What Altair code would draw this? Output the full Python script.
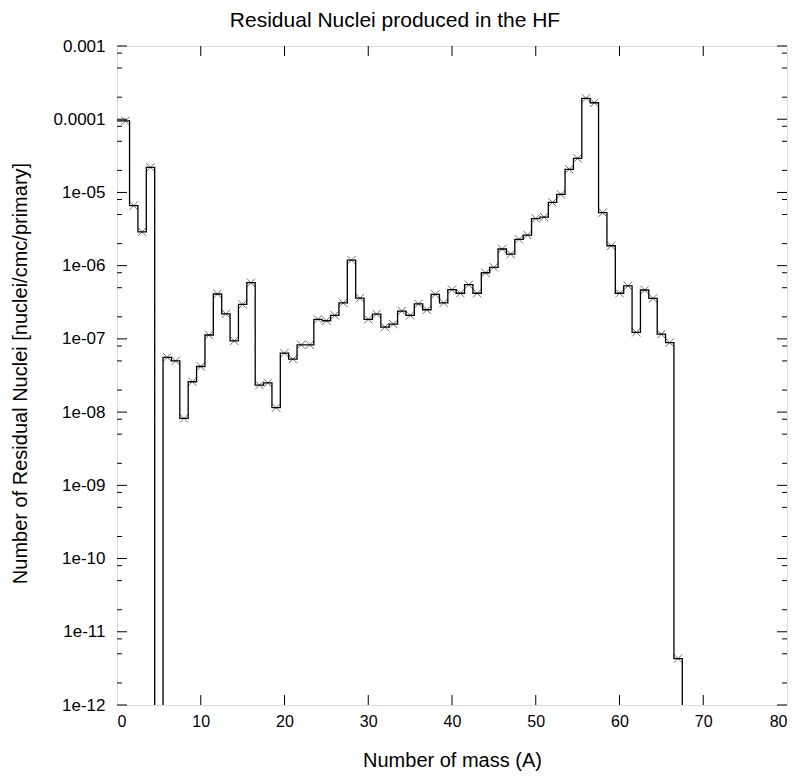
import altair as alt
import pandas as pd

# ---- data ----
mass = list(range(1, 69))
counts = [9.5e-5, 6.6e-6, 2.9e-6, 2.2e-5, 0, 5.6e-8, 5.0e-8, 8.2e-9, 2.6e-8, 4.2e-8,
          1.13e-7, 4.1e-7, 2.2e-7, 9.4e-8, 2.96e-7, 5.85e-7, 2.34e-8, 2.5e-8, 1.15e-8, 6.4e-8,
          5.3e-8, 8.3e-8, 8.3e-8, 1.85e-7, 1.77e-7, 2.1e-7, 3.1e-7, 1.19e-6, 3.6e-7, 1.85e-7,
          2.18e-7, 1.45e-7, 1.59e-7, 2.4e-7, 2.1e-7, 3.0e-7, 2.5e-7, 4.05e-7, 3.1e-7, 4.7e-7,
          4.2e-7, 5.5e-7, 4.2e-7, 8.0e-7, 9.5e-7, 1.69e-6, 1.44e-6, 2.29e-6, 2.62e-6, 4.4e-6,
          4.6e-6, 7.3e-6, 9.4e-6, 2.07e-5, 2.92e-5, 1.93e-4, 1.68e-4, 5.3e-6, 1.87e-6, 4.2e-7,
          5.3e-7, 1.23e-7, 4.65e-7, 3.57e-7, 1.16e-7, 8.9e-8, 4.3e-12, 0]

x_ticks = [0, 10, 20, 30, 40, 50, 60, 70, 80]
y_ticks = [1e-3, 1e-4, 1e-5, 1e-6, 1e-7, 1e-8, 1e-9, 1e-10, 1e-11, 1e-12]
y_tick_labels = ["0.001", "0.0001", "1e-05", "1e-06", "1e-07", "1e-08",
                 "1e-09", "1e-10", "1e-11", "1e-12"]
y_minor = [k * 10.0 ** n for n in range(-12, -3) for k in (2, 5, 8)]

title = "Residual Nuclei produced in the HF"
x_title = "Number of mass (A)"
y_title = "Number of Residual Nuclei [nuclei/cmc/primary]"

# ---- build tables ----
FLOOR = 1e-30  # empty bins fall below the visible range (clipped)
line_df = pd.DataFrame({
    "A": [0] + mass,
    "N": [counts[0] if counts[0] > 0 else FLOOR] + [c if c > 0 else FLOOR for c in counts],
})
pts_df = pd.DataFrame({"A": [m for m, c in zip(mass, counts) if c > 0],
                       "N": [c for c in counts if c > 0]})

W, H = 670, 659
FONT = "Liberation Sans"
xs = alt.Scale(domain=[0, 80], nice=False, zero=False)
ys = alt.Scale(type="log", domain=[1e-12, 1e-3], nice=False)

label_arr = "[" + ",".join("'%s'" % s for s in y_tick_labels) + "]"
label_expr = label_arr + "[round(-log(datum.value)/LN10) - 3]"

x_axis = alt.Axis(values=x_ticks, ticks=False, grid=False, domain=False,
                  labelFont=FONT, labelFontSize=16, labelPadding=8, labelColor="black",
                  title=x_title, titleFont=FONT, titleFontSize=20, titleFontWeight="normal",
                  titleColor="black", titleBaseline="middle", titleY=55)
y_axis = alt.Axis(values=y_ticks, labelExpr=label_expr, ticks=False, grid=False, domain=False,
                  labelFont=FONT, labelFontSize=17, labelPadding=12, labelColor="black",
                  title=y_title, titleFont=FONT, titleFontSize=20, titleFontWeight="normal",
                  titleColor="black", titleBaseline="middle", titleX=-97, titleY=327)

line = alt.Chart(line_df).mark_line(interpolate="step", color="black", strokeWidth=1.3, clip=True).encode(
    x=alt.X("A:Q", scale=xs, axis=x_axis),
    y=alt.Y("N:Q", scale=ys, axis=y_axis),
)

xmark = "M-1,-1L1,1M-1,1L1,-1"
points = alt.Chart(pts_df).mark_point(shape=xmark, size=70, filled=False, color="#707070",
                                      strokeWidth=1, opacity=1, clip=True).encode(
    x=alt.X("A:Q", scale=xs, axis=x_axis),
    y=alt.Y("N:Q", scale=ys, axis=y_axis),
)

ymaj_df = pd.DataFrame({"v": y_ticks})
ymin_df = pd.DataFrame({"v": y_minor})
xmaj_df = pd.DataFrame({"v": x_ticks[1:-1]})


def yrule(df, x0, x1):
    return alt.Chart(df).mark_rule(color="black", strokeWidth=1).encode(
        y=alt.Y("v:Q", scale=ys, axis=y_axis), x=alt.value(x0), x2=alt.value(x1))


def xrule(df, y0, y1):
    return alt.Chart(df).mark_rule(color="black", strokeWidth=1).encode(
        x=alt.X("v:Q", scale=xs, axis=x_axis), y=alt.value(y0), y2=alt.value(y1))


ticks = [
    yrule(ymaj_df, 0, 10), yrule(ymaj_df, W - 10, W),
    yrule(ymin_df, 0, 5), yrule(ymin_df, W - 5, W),
    xrule(xmaj_df, 0, 10), xrule(xmaj_df, H - 10, H),
]

chart = alt.layer(points, line, *ticks).properties(
    width=W, height=H,
    title=alt.TitleParams(text=title, font=FONT, fontSize=21, fontWeight="normal",
                          color="black", anchor="middle", dx=-57, offset=6),
    autosize=alt.AutoSizeParams(type="none"),
    padding={"left": 109, "top": 38, "right": 4, "bottom": 70},
).configure_view(stroke="black", strokeWidth=1).configure(background="white")

chart.save("out.html", embed_options={"renderer": "svg", "actions": False})
